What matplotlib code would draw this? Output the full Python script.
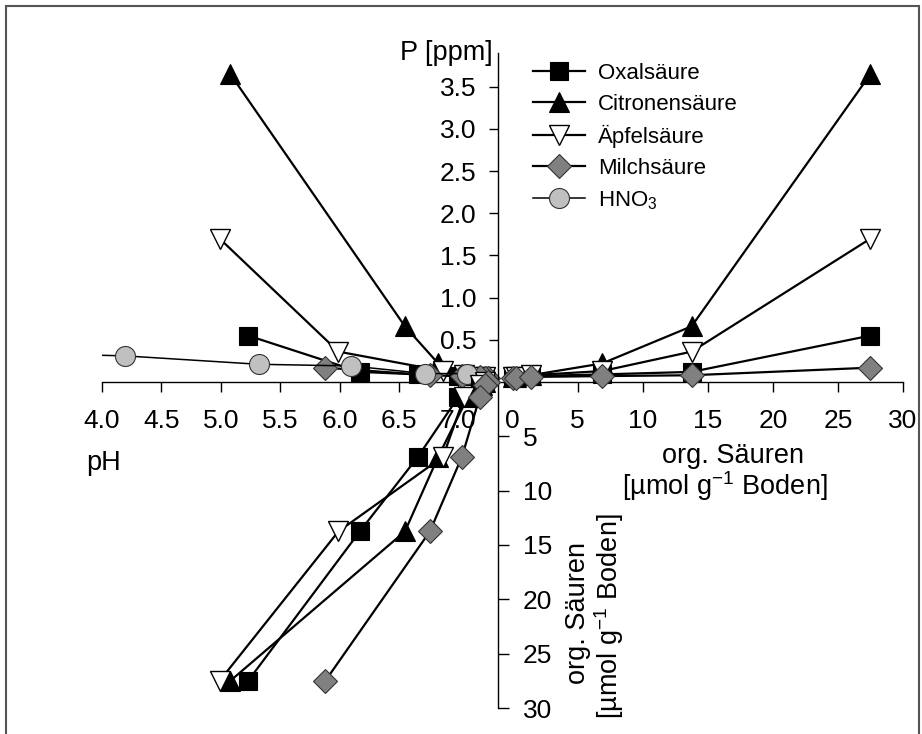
import matplotlib
matplotlib.use('Agg')
import matplotlib.pyplot as plt
from matplotlib.lines import Line2D
from matplotlib.patches import Rectangle
import numpy as np

plt.rcParams['font.family'] = ['Liberation Sans', 'DejaVu Sans']
plt.rcParams['mathtext.fontset'] = 'custom'
plt.rcParams['mathtext.rm'] = 'Liberation Sans'
plt.rcParams['mathtext.it'] = 'Liberation Sans:italic'
plt.rcParams['mathtext.bf'] = 'Liberation Sans:bold'

# ---------------- data ----------------
series_names = ['Oxalsäure', 'Citronensäure', 'Äpfelsäure', 'Milchsäure', 'HNO$_3$']

# organic acid addition [µmol g-1 Boden]
conc = [0, 0.275, 1.375, 6.875, 13.75, 27.5]

ph_oxal = [7.22, 7.18, 7.00, 6.66, 6.17, 5.23]
p_oxal = [0.06, 0.06, 0.07, 0.09, 0.12, 0.55]

ph_citr = [7.22, 7.20, 7.08, 6.83, 6.55, 5.08]
p_citr = [0.06, 0.06, 0.08, 0.22, 0.66, 3.65]

ph_apf = [7.22, 7.18, 7.05, 6.87, 5.99, 4.99]
p_apf = [0.06, 0.06, 0.08, 0.13, 0.36, 1.70]

ph_milch = [7.25, 7.22, 7.18, 7.03, 6.76, 5.88]
p_milch = [0.05, 0.05, 0.06, 0.07, 0.08, 0.17]

ph_hno3 = [3.60, 4.19, 5.32, 6.10, 6.72, 7.07]
p_hno3 = [0.33, 0.31, 0.21, 0.19, 0.10, 0.10]

ph_ticks = [4.0, 4.5, 5.0, 5.5, 6.0, 6.5, 7.0]
p_ticks = [0.5, 1.0, 1.5, 2.0, 2.5, 3.0, 3.5]
conc_ticks = [0, 5, 10, 15, 20, 25, 30]
conc_ticks_down = [5, 10, 15, 20, 25, 30]

# ---------------- styles ----------------
styles = [
    dict(marker='s', ms=13.5, mfc='black', mec='black', mew=0.8, lw=1.6),
    dict(marker='^', ms=15, mfc='black', mec='black', mew=0.8, lw=1.6),
    dict(marker='v', ms=15, mfc='white', mec='black', mew=1.0, lw=1.6),
    dict(marker='D', ms=12.4, mfc='#808080', mec='#333333', mew=0.8, lw=1.6),
    dict(marker='o', ms=14.4, mfc='#c0c0c0', mec='#333333', mew=0.8, lw=1.1),
]

W, H = 922, 734
fig = plt.figure(figsize=(W / 100, H / 100), dpi=100)


def fx(px):
    return px / W


def fy(py):
    return 1 - py / H


x_axis_y = 382
top_y = 53
p_axis_x = 498
left_x = 102
right_x = 903
bottom_y = 708

ax1 = fig.add_axes([fx(left_x), fy(x_axis_y), fx(p_axis_x) - fx(left_x), fy(top_y) - fy(x_axis_y)])
ax2 = fig.add_axes([fx(p_axis_x), fy(x_axis_y), fx(right_x) - fx(p_axis_x), fy(top_y) - fy(x_axis_y)])
ax3 = fig.add_axes([fx(left_x), fy(bottom_y), fx(p_axis_x) - fx(left_x), fy(x_axis_y) - fy(bottom_y)])

for ax in (ax1, ax2, ax3):
    ax.set_facecolor('none')
    for s in ax.spines.values():
        s.set_visible(False)
        s.set_linewidth(1.0)

ph_min = 4.0
ph_max = 4.0 + (p_axis_x - left_x) / 118.8
ax1.set_xlim(ph_min, ph_max)
ax3.set_xlim(ph_min, ph_max)
ax1.set_ylim(0, 3.9)
ax2.set_ylim(0, 3.9)
ax2.set_xlim(-(512.7 - p_axis_x) / 13.0, 30)
ax3.set_ylim(30, 0)

# ax1: pH axis on bottom
ax1.spines['bottom'].set_visible(True)
ax1.set_xticks(ph_ticks)
ax1.set_xticklabels([f'{v:.1f}' for v in ph_ticks])
ax1.set_yticks([])
ax1.tick_params(axis='x', direction='out', length=7.2, width=1, labelsize=19, pad=12)

# ax2: P axis (left) and conc axis (bottom)
ax2.spines['left'].set_visible(True)
ax2.spines['bottom'].set_visible(True)
ax2.set_yticks(p_ticks)
ax2.set_yticklabels([f'{v:.1f}' for v in p_ticks])
ax2.set_xticks(conc_ticks)
ax2.set_xticklabels([str(v) for v in conc_ticks])
ax2.tick_params(axis='y', direction='out', length=6.5, width=1, labelsize=19, pad=9)
ax2.tick_params(axis='x', direction='out', length=7.2, width=1, labelsize=19, pad=12)
ax2.xaxis.get_major_ticks()[0].tick1line.set_visible(False)

# ax3: conc axis downward (right spine)
ax3.spines['right'].set_visible(True)
ax3.yaxis.tick_right()
ax3.set_yticks(conc_ticks_down)
ax3.set_yticklabels([str(v) for v in conc_ticks_down])
ax3.set_xticks([])
ax3.tick_params(axis='y', direction='out', length=8, width=1, labelsize=19, pad=10)

# ---------------- data drawing ----------------
acid_ph = [ph_oxal, ph_citr, ph_apf, ph_milch]
acid_p = [p_oxal, p_citr, p_apf, p_milch]

for ph, p, st in zip(acid_ph, acid_p, styles[:4]):
    ax1.plot(ph, p, color='black', clip_on=False, zorder=3, **st)
    ax2.plot(conc, p, color='black', clip_on=False, zorder=3, **st)
    ax3.plot(ph, conc, color='black', clip_on=False, zorder=3, **st)

# HNO3 only in the P-pH quadrant; line clipped at pH 4
st = dict(styles[4])
lw_h = st.pop('lw')
ax1.plot(ph_hno3, p_hno3, color='black', lw=lw_h, clip_on=True, zorder=3)
vis = [(a, b) for a, b in zip(ph_hno3, p_hno3) if a >= ph_min]
ax1.plot([a for a, b in vis], [b for a, b in vis], ls='none', clip_on=False, zorder=4, **st)

# ---------------- legend ----------------
handles = [Line2D([], [], color='black', **s) for s in styles]
leg = ax2.legend(handles, series_names, loc='upper left',
                 bbox_to_anchor=(fx(532.7), fy(63)), bbox_transform=fig.transFigure,
                 frameon=False, fontsize=16, handlelength=2.35, handletextpad=0.6,
                 labelspacing=0.45, borderpad=0, borderaxespad=0)

# ---------------- labels ----------------
fig.text(fx(493), fy(53), 'P [ppm]', ha='right', va='center', fontsize=19.5)
fig.text(fx(104), fy(463), 'pH', ha='center', va='center', fontsize=19.5)
fig.text(fx(733), fy(456), 'org. Säuren', ha='center', va='center', fontsize=19.5)
fig.text(fx(725), fy(486), '[µmol g$^{\\mathrm{-}1}$ Boden]', ha='center', va='center', fontsize=19.5)
fig.text(fx(578), fy(613), 'org. Säuren', ha='center', va='center', fontsize=19.5, rotation=90)
fig.text(fx(609), fy(616), '[µmol g$^{\\mathrm{-}1}$ Boden]', ha='center', va='center', fontsize=19.5, rotation=90)

# ---------------- outer frame ----------------
fig.patches.append(Rectangle((fx(6), fy(760)), fx(919) - fx(6), fy(6) - fy(760),
                             transform=fig.transFigure, fill=False,
                             edgecolor='#555555', lw=1.5, zorder=0))

fig.savefig('out.png', dpi=100)
